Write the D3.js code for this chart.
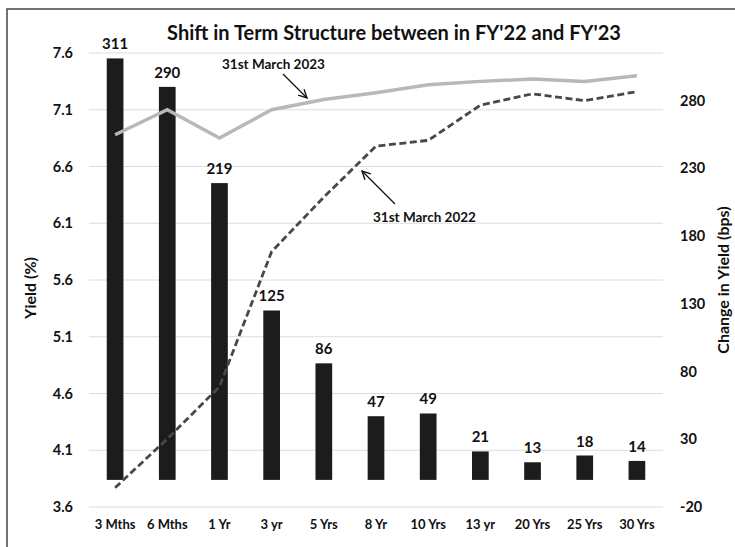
<!DOCTYPE html>
<html>
<head>
<meta charset="utf-8">
<script src="https://cdn.jsdelivr.net/npm/d3@7"></script>
<style>
  body { margin: 0; background: #fff; }
  svg { font-family: Lato, "Open Sans", sans-serif; }
</style>
</head>
<body>
<svg width="735" height="547"></svg>
<script>
let tenors = ["3 Mths", "6 Mths", "1 Yr", "3 yr", "5 Yrs", "8 Yr", "10 Yrs", "13 yr", "20 Yrs", "25 Yrs", "30 Yrs"];
let yield2023 = [6.88, 7.10, 6.85, 7.10, 7.19, 7.25, 7.32, 7.35, 7.37, 7.35, 7.40];
let yield2022 = [3.77, 4.20, 4.66, 5.85, 6.33, 6.78, 6.83, 7.14, 7.24, 7.18, 7.26];
let changeBps = [311, 290, 219, 125, 86, 47, 49, 21, 13, 18, 14];
let leftTicks = [3.6, 4.1, 4.6, 5.1, 5.6, 6.1, 6.6, 7.1, 7.6];
let rightTicks = [-20, 30, 80, 130, 180, 230, 280];

let svg = d3.select("svg");

// frame round the chart
svg.append("rect")
  .attr("x", 7).attr("y", 9)
  .attr("width", 800).attr("height", 600)
  .attr("fill", "none")
  .attr("stroke", "#444")
  .attr("stroke-width", 1.5);

let x = d3.scaleBand().domain(tenors).range([89, 663]);
let yLeft = d3.scaleLinear().domain([3.6, 7.6]).range([507, 53]);
let yRight = d3.scaleLinear().domain([-20, 315]).range([507, 53]);

// gridlines
svg.append("g")
  .selectAll("line")
  .data(leftTicks)
  .enter()
  .append("line")
  .attr("x1", 89).attr("x2", 663)
  .attr("y1", d => yLeft(d)).attr("y2", d => yLeft(d))
  .attr("stroke", "#dcdcdc")
  .attr("stroke-width", 1);

function styleTicks(sel, size) {
  sel.select(".domain").remove();
  sel.selectAll("text")
    .attr("font-family", "Lato, sans-serif")
    .attr("font-size", size)
    .attr("font-weight", "bold")
    .attr("fill", "#111");
}

// left axis
let axL = svg.append("g")
  .attr("transform", "translate(73,0)")
  .call(d3.axisLeft(yLeft).tickValues(leftTicks).tickSize(0).tickPadding(0).tickFormat(d3.format(".1f")));
styleTicks(axL, 14.5);

// right axis, plain hyphen for the minus
let axR = svg.append("g")
  .attr("transform", "translate(680,0)")
  .call(d3.axisRight(yRight).tickValues(rightTicks).tickSize(0).tickPadding(0).tickFormat(d => String(d)));
styleTicks(axR, 14.5);

// bottom axis
let axB = svg.append("g")
  .attr("transform", "translate(0,520)")
  .call(d3.axisBottom(x).tickSize(0).tickPadding(0));
styleTicks(axB, 13);
axB.selectAll("text").attr("dy", "0.71em");

// bars (change in bps, right axis)
let barW = x.bandwidth() * 0.32;
let barG = svg.append("g");
barG.selectAll("rect")
  .data(changeBps)
  .enter()
  .append("rect")
  .attr("x", (d, i) => x(tenors[i]) + x.bandwidth() / 2 - barW / 2)
  .attr("y", d => yRight(d))
  .attr("width", barW)
  .attr("height", d => yRight(0) - yRight(d))
  .attr("fill", "#1c1c1c");

barG.selectAll("text")
  .data(changeBps)
  .enter()
  .append("text")
  .attr("x", (d, i) => x(tenors[i]) + x.bandwidth() / 2)
  .attr("y", d => yRight(d) - 9)
  .attr("text-anchor", "middle")
  .attr("font-size", 15)
  .attr("font-weight", "bold")
  .attr("fill", "#111")
  .text(d => d);

// yield curves (left axis)
let line = d3.line()
  .x((d, i) => x(tenors[i]) + x.bandwidth() / 2)
  .y(d => yLeft(d));

svg.append("path")
  .datum(yield2023)
  .attr("d", line)
  .attr("fill", "none")
  .attr("stroke", "#b8b8b8")
  .attr("stroke-width", 3.5);

svg.append("path")
  .datum(yield2022)
  .attr("d", line)
  .attr("fill", "none")
  .attr("stroke", "#484848")
  .attr("stroke-width", 2.8)
  .attr("stroke-dasharray", "7,3.5");

// title
svg.append("text")
  .attr("x", 394).attr("y", 40)
  .attr("text-anchor", "middle")
  .attr("font-size", 20)
  .attr("font-weight", "bold")
  .attr("fill", "#111")
  .text("Shift in Term Structure between in FY'22 and FY'23");

// axis titles
svg.append("text")
  .attr("transform", "translate(36,288) rotate(-90)")
  .attr("text-anchor", "middle")
  .attr("font-size", 16)
  .attr("font-weight", "bold")
  .attr("fill", "#111")
  .text("Yield (%)");

svg.append("text")
  .attr("transform", "translate(729,280) rotate(-90)")
  .attr("text-anchor", "middle")
  .attr("font-size", 16)
  .attr("font-weight", "bold")
  .attr("fill", "#111")
  .text("Change in Yield (bps)");

// annotations
svg.append("defs").append("marker")
  .attr("id", "arr")
  .attr("viewBox", "0 0 10 10")
  .attr("refX", 9).attr("refY", 5)
  .attr("markerWidth", 8).attr("markerHeight", 8)
  .attr("orient", "auto")
  .append("path")
  .attr("d", "M1,1 L9,5 L1,9")
  .attr("fill", "none")
  .attr("stroke", "#111")
  .attr("stroke-width", 1.3);

svg.append("text")
  .attr("x", 222).attr("y", 69)
  .attr("font-size", 13.5)
  .attr("font-weight", "bold")
  .attr("fill", "#111")
  .text("31st March 2023");

svg.append("line")
  .attr("x1", 283).attr("y1", 74)
  .attr("x2", 307).attr("y2", 98)
  .attr("stroke", "#111")
  .attr("stroke-width", 1.3)
  .attr("marker-end", "url(#arr)");

svg.append("text")
  .attr("x", 373).attr("y", 222)
  .attr("font-size", 13.5)
  .attr("font-weight", "bold")
  .attr("fill", "#111")
  .text("31st March 2022");

svg.append("line")
  .attr("x1", 395).attr("y1", 204)
  .attr("x2", 362).attr("y2", 171)
  .attr("stroke", "#111")
  .attr("stroke-width", 1.3)
  .attr("marker-end", "url(#arr)");
</script>
</body>
</html>
